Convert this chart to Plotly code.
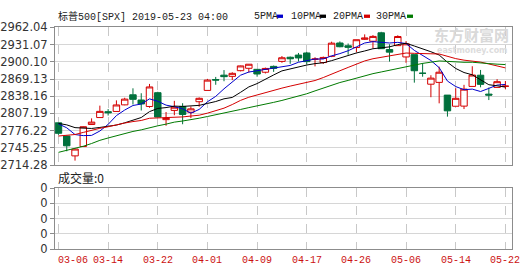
import plotly.graph_objects as go
import numpy as np

dates = ["03-06","03-07","03-08","03-11","03-12","03-13","03-14","03-15","03-18","03-19",
         "03-20","03-21","03-22","03-25","03-26","03-27","03-28","03-29","04-01","04-02",
         "04-03","04-04","04-05","04-08","04-09","04-10","04-11","04-12","04-15","04-16",
         "04-17","04-18","04-22","04-23","04-24","04-25","04-26","04-29","04-30","05-01",
         "05-02","05-03","05-06","05-07","05-08","05-09","05-10","05-13","05-14","05-15",
         "05-16","05-17","05-20","05-21","05-22"]
opens = [2790.27,2766.53,2730.79,2747.61,2787.34,2799.78,2810.38,2810.79,2822.61,2840.76,
         2831.34,2819.72,2844.52,2796.01,2812.66,2819.72,2809.40,2828.27,2848.63,2868.24,
         2876.09,2873.99,2884.16,2888.46,2886.58,2881.37,2891.92,2900.86,2908.32,2912.26,
         2916.04,2904.81,2898.78,2909.99,2934.00,2928.99,2925.81,2940.58,2937.14,2952.33,
         2922.16,2929.21,2908.89,2913.03,2879.61,2859.84,2863.10,2840.19,2820.12,2820.38,
         2855.80,2876.00,2841.94,2854.02,2856.06]
highs = [2790.27,2767.25,2744.13,2784.00,2798.32,2821.24,2815.00,2830.73,2835.41,2852.42,
         2843.54,2860.31,2846.16,2809.79,2829.87,2825.56,2819.71,2836.03,2869.40,2872.90,
         2885.25,2881.28,2893.24,2895.95,2886.88,2889.71,2893.42,2910.54,2909.60,2916.06,
         2918.00,2908.40,2909.51,2936.31,2936.83,2933.10,2939.88,2949.52,2948.22,2954.13,
         2931.68,2947.85,2937.32,2913.03,2897.96,2875.97,2891.31,2840.19,2852.54,2858.68,
         2892.15,2885.48,2853.86,2868.88,2865.47]
lows = [2768.69,2739.09,2722.27,2747.61,2786.73,2799.78,2803.46,2810.79,2821.99,2823.27,
        2812.43,2817.38,2800.47,2785.02,2803.99,2787.72,2798.77,2819.23,2848.63,2858.75,
        2865.17,2867.14,2882.99,2880.78,2873.33,2879.13,2881.99,2898.37,2896.48,2900.71,
        2895.45,2891.90,2896.35,2908.53,2926.31,2912.84,2917.56,2939.35,2924.11,2923.36,
        2900.50,2929.21,2898.21,2862.60,2873.28,2836.40,2825.39,2801.43,2820.12,2815.08,
        2855.80,2854.23,2831.29,2854.02,2851.11]
closes = [2771.45,2748.93,2743.07,2783.30,2791.52,2810.92,2808.48,2822.48,2832.94,2832.57,
          2824.23,2854.88,2800.71,2798.36,2818.46,2805.37,2815.44,2834.40,2867.19,2867.24,
          2873.40,2879.39,2892.74,2895.77,2878.20,2888.21,2888.32,2907.41,2905.58,2907.06,
          2900.45,2905.03,2907.97,2933.68,2927.25,2926.17,2939.88,2943.03,2945.83,2923.73,
          2917.52,2945.64,2932.47,2884.05,2879.42,2870.72,2881.40,2811.87,2834.41,2850.96,
          2876.32,2859.53,2840.23,2864.36,2856.27]
# closes of the 29 sessions before 03-06 (for the moving averages)
prior_closes = [2638.70,2642.33,2664.76,2643.85,2640.00,2681.05,2704.10,2706.53,2724.87,2737.70,
                2731.61,2706.05,2707.88,2709.80,2744.73,2753.03,2745.73,2775.60,2779.76,2784.70,
                2774.88,2792.67,2796.11,2793.90,2792.38,2784.49,2803.69,2792.81,2789.65]
ma_periods = [5, 10, 20, 30]
ma_names = ["5PMA", "10PMA", "20PMA", "30PMA"]
ma_colors = ["#0000cc", "#000000", "#d40000", "#007a00"]
y_ticks = [2714.28, 2745.25, 2776.22, 2807.19, 2838.16, 2869.13, 2900.10, 2931.07, 2962.04]
x_tick_idx = [0, 6, 12, 18, 24, 30, 36, 42, 48, 54]
volume_ticks = [0, 1, 2, 3, 4]

W, H = 530, 276
def px(v): return v / W
def py(v): return 1 - v / H

idx = list(range(len(dates)))
allc = np.array(prior_closes + closes)
n0 = len(prior_closes)

RED = "#d40000"
GREEN = "#00703c"
GRID = "#d6d6d6"
FRAME = "#8c8c8c"

fig = go.Figure()
fig.add_trace(go.Candlestick(
    x=idx, open=opens, high=highs, low=lows, close=closes,
    increasing=dict(line=dict(color=RED, width=1), fillcolor="white"),
    decreasing=dict(line=dict(color=GREEN, width=1), fillcolor=GREEN),
    whiskerwidth=0, xaxis="x", yaxis="y", showlegend=False, hoverinfo="skip"))

for p, nm, c in zip(ma_periods, ma_names, ma_colors):
    ma = [allc[n0 + i - p + 1: n0 + i + 1].mean() for i in idx]
    fig.add_trace(go.Scatter(x=idx, y=ma, mode="lines", line=dict(color=c, width=1),
                             name=nm, showlegend=False, xaxis="x", yaxis="y", hoverinfo="skip"))

# empty volume panel
fig.add_trace(go.Scatter(x=[idx[0]], y=[0], mode="markers", marker=dict(opacity=0),
                         xaxis="x2", yaxis="y2", showlegend=False, hoverinfo="skip"))

xr = [-0.42, 54.8]
axfont = dict(family="DejaVu Sans", size=11.5, color="#333333")
common_x = dict(range=xr, tickvals=x_tick_idx, showticklabels=False, showgrid=True,
                gridcolor="#c8c8c8", griddash="dash", gridwidth=1, zeroline=False,
                showline=True, mirror=True, linecolor=FRAME, linewidth=1, ticks="")
fig.update_layout(
    width=W, height=H, margin=dict(l=0, r=0, t=0, b=0),
    paper_bgcolor="white", plot_bgcolor="white",
    boxgap=0.22, boxgroupgap=0,
    xaxis=dict(domain=[px(55), px(512)], anchor="y", rangeslider=dict(visible=False), **common_x),
    yaxis=dict(domain=[py(166.5), py(21.5)], range=[y_ticks[0], y_ticks[-1]], tickvals=y_ticks,
               ticktext=[f"{v:.2f}" for v in y_ticks], tickfont=axfont, ticks="outside",
               ticklen=4, tickcolor=FRAME, showgrid=True, gridcolor=GRID, zeroline=False,
               showline=True, mirror=True, linecolor=FRAME, linewidth=1, anchor="x"),
    xaxis2=dict(domain=[px(55), px(512)], anchor="y2", **common_x),
    yaxis2=dict(domain=[py(255), py(190.7)], range=[0, 4], tickvals=volume_ticks,
                ticktext=["0"] * len(volume_ticks), tickfont=axfont, ticks="outside",
                ticklen=4, tickcolor=FRAME, showgrid=True, gridcolor=GRID, zeroline=False,
                showline=True, mirror=True, linecolor=FRAME, linewidth=1, anchor="x2"),
    showlegend=False,
)

tfont = dict(family="Liberation Mono, Noto Sans CJK SC", size=10, color="#222222")
ann = []
ann.append(dict(text="标普500[SPX] 2019-05-23 04:00", x=px(56), y=py(9.5), xref="paper", yref="paper",
                xanchor="left", yanchor="middle", showarrow=False, font=tfont))
leg_x = [252, 289, 331, 374]
box_x = [277, 320, 364, 407]
shapes = []
for nm, c, lx, bx in zip(ma_names, ma_colors, leg_x, box_x):
    ann.append(dict(text=nm, x=px(lx), y=py(9.5), xref="paper", yref="paper", xanchor="left",
                    yanchor="middle", showarrow=False, font=dict(family="Liberation Mono", size=10, color="#222222")))
    shapes.append(dict(type="rect", xref="paper", yref="paper", x0=px(bx), x1=px(bx + 6),
                       y0=py(11.5), y1=py(8), fillcolor=c, line=dict(width=0)))
ann.append(dict(text="成交量:0", x=px(56), y=py(179.5), xref="paper", yref="paper",
                xanchor="left", yanchor="middle", showarrow=False,
                font=dict(family="Noto Sans CJK SC", size=12, color="#222222")))
for k in x_tick_idx:
    ann.append(dict(text=dates[k], x=k, y=py(267.5), xref="x2", yref="paper",
                    xanchor="center", yanchor="middle", showarrow=False,
                    xshift=15 if k == 0 else 0,
                    font=dict(family="Liberation Mono", size=10, color="#cc1111")))
# watermark
ann.append(dict(text="<b>东方财富网</b>", x=px(511), y=py(29), xref="paper", yref="paper",
                xanchor="right", yanchor="middle", showarrow=False,
                font=dict(family="Noto Sans CJK SC", size=15, color="#d9d9d9")))
ann.append(dict(text="<b>eastmoney.com</b>", x=px(509), y=py(46), xref="paper", yref="paper",
                xanchor="right", yanchor="middle", showarrow=False,
                font=dict(family="DejaVu Sans", size=8, color="#dcdcdc")))
fig.update_layout(annotations=ann, shapes=shapes)

fig.write_html("out.html")
